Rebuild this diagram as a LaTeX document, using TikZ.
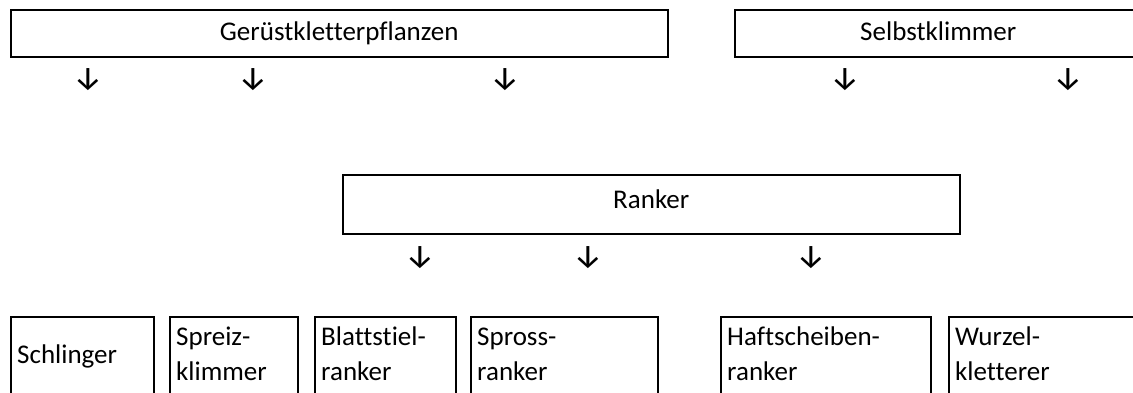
\documentclass[tikz,border=0pt]{standalone}
\usepackage{fontspec}
\setmainfont{Carlito}[Ligatures=NoCommon]
\newfontfamily\arrowfont{Fira Sans}
\begin{document}
\begin{tikzpicture}[x=1pt,y=-1pt,
  box/.style={draw, line width=1.5pt, inner sep=0pt, anchor=north west,
    font=\fontsize{27}{35}\selectfont, text height=23pt, text depth=8pt},
  lowbox/.style={draw, line width=1.5pt, inner sep=0pt, anchor=north west, minimum height=100pt},
  lbl/.style={inner sep=0pt, anchor=base west, font=\fontsize{27}{35}\selectfont},
  arr/.style={inner sep=0pt, font=\arrowfont\fontsize{33}{33}\selectfont}]
\useasboundingbox (0,0) rectangle (1133,392);
\clip (0,0) rectangle (1133,392);
% top row
\node[box, minimum width=657pt, minimum height=47pt] (geruest) at (10,9) {Gerüstkletterpflanzen};
\node[box, minimum width=407pt, minimum height=47pt] (selbst) at (734,9) {Selbstklimmer};
\node[arr] (a1) at (88,80) {↓};
\node[arr] (a2) at (253,80) {↓};
\node[arr] (a3) at (505,80) {↓};
\node[arr] (a4) at (845,80) {↓};
\node[arr] (a5) at (1068,80) {↓};
% middle
\node[box, minimum width=617pt, minimum height=59pt, text height=20pt, text depth=11pt] (ranker) at (342,174) {Ranker};
\node[arr] (b1) at (420,258) {↓};
\node[arr] (b2) at (588,258) {↓};
\node[arr] (b3) at (811,258) {↓};
% bottom row
\node[lowbox, minimum width=143pt] (schl) at (10,316) {};
\node[lowbox, minimum width=128pt] (spreiz) at (169,316) {};
\node[lowbox, minimum width=141pt] (blatt) at (314,316) {};
\node[lowbox, minimum width=187pt] (spross) at (470,316) {};
\node[lowbox, minimum width=210pt] (haft) at (720,316) {};
\node[lowbox, minimum width=200pt] (wurzel) at (948,316) {};
\node[lbl] (schlT) at ([shift={(7,47)}]schl.north west) {Schlinger};
\node[lbl] (spreizT) at ([shift={(7,29)}]spreiz.north west) {\begin{tabular}[t]{@{}l@{}}Spreiz-\\klimmer\end{tabular}};
\node[lbl] (blattT) at ([shift={(7,29)}]blatt.north west) {\begin{tabular}[t]{@{}l@{}}Blattstiel-\\ranker\end{tabular}};
\node[lbl] (sprossT) at ([shift={(7,29)}]spross.north west) {\begin{tabular}[t]{@{}l@{}}Spross-\\ranker\end{tabular}};
\node[lbl] (haftT) at ([shift={(7,29)}]haft.north west) {\begin{tabular}[t]{@{}l@{}}Haftscheiben-\\ranker\end{tabular}};
\node[lbl] (wurzelT) at ([shift={(7,29)}]wurzel.north west) {\begin{tabular}[t]{@{}l@{}}Wurzel-\\kletterer\end{tabular}};
\end{tikzpicture}
\end{document}
